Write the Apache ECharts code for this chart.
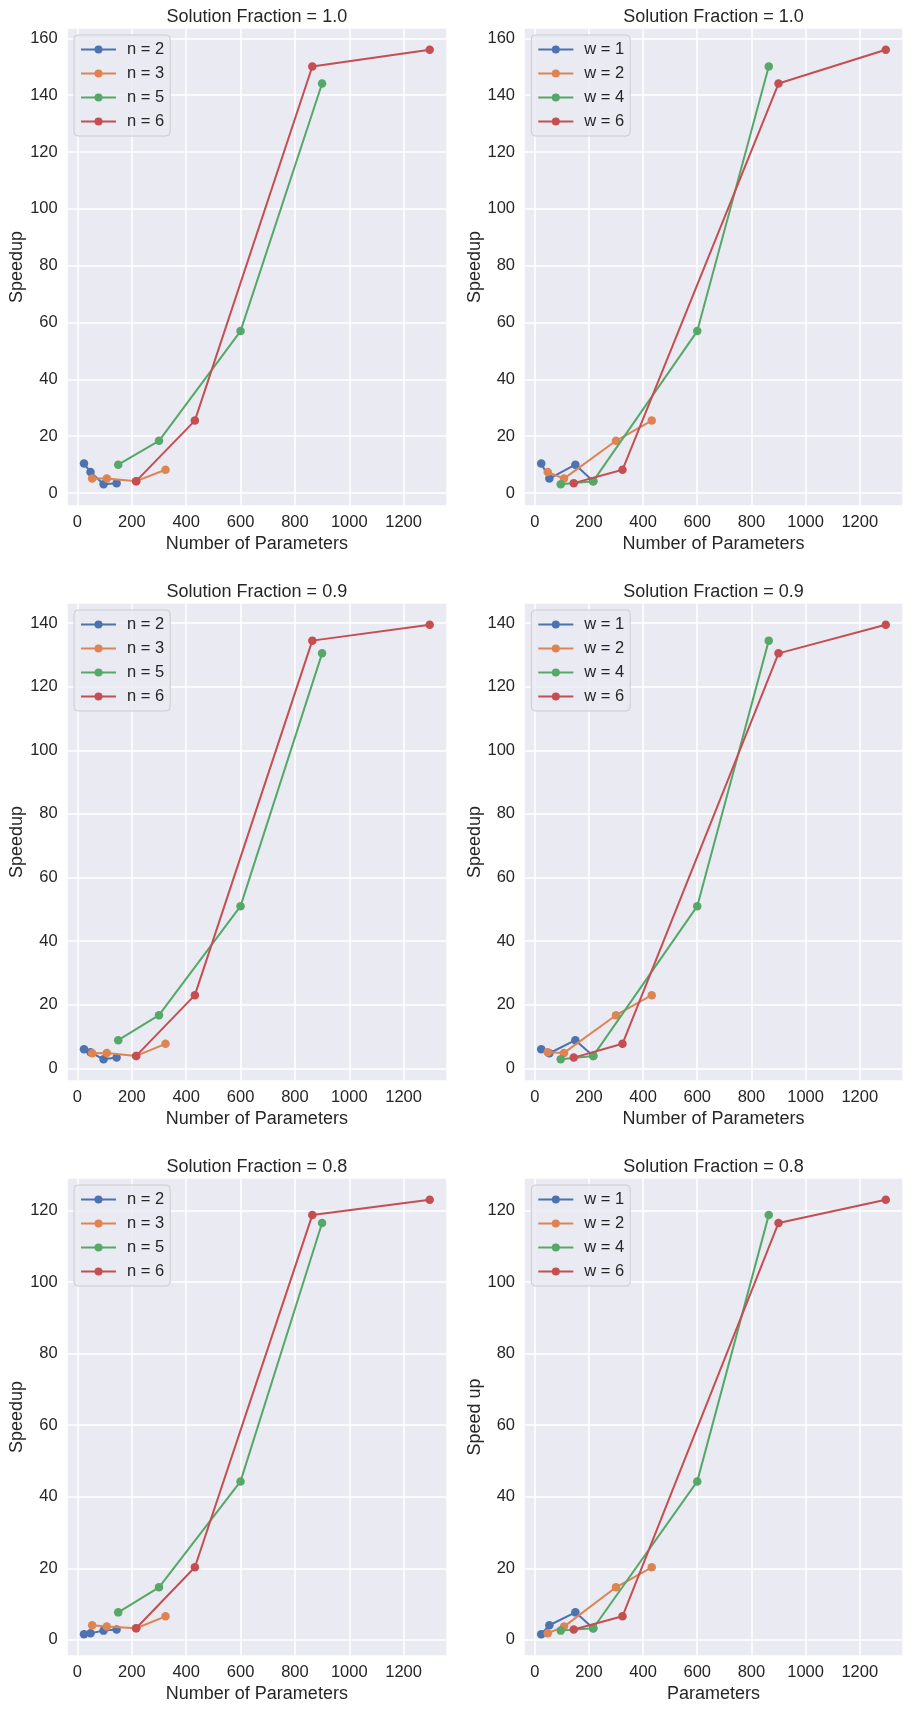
<!DOCTYPE html>
<html>
<head>
<meta charset="utf-8">
<script src="https://cdn.jsdelivr.net/npm/echarts@6/dist/echarts.min.js"></script>
<style>
html,body{margin:0;padding:0;background:#ffffff;}
#chart{width:916px;height:1711px;}
</style>
</head>
<body>
<div id="chart"></div>
<script>
// ---- data ----
const nValues = [2, 3, 5, 6];
const wValues = [1, 2, 4, 6];
// number of parameters for each n, indexed by w = 1, 2, 4, 6
const params_n2 = [24, 48, 96, 144];
const params_n3 = [54, 108, 216, 324];
const params_n5 = [150, 300, 600, 900];
const params_n6 = [216, 432, 864, 1296];
// speedup, solution fraction 1.0 (indexed by w = 1, 2, 4, 6)
const sf10_n2 = [10.4, 7.4, 3.1, 3.5];
const sf10_n3 = [5.1, 5.1, 4.2, 8.2];
const sf10_n5 = [10.0, 18.4, 57.0, 144.1];
const sf10_n6 = [4.2, 25.5, 150.1, 156.0];
// speedup, solution fraction 0.9
const sf09_n2 = [6.0, 5.05, 2.84, 3.37];
const sf09_n3 = [4.74, 4.84, 3.9, 7.7];
const sf09_n5 = [8.84, 16.7, 51.0, 130.5];
const sf09_n6 = [3.9, 23.0, 134.5, 139.5];
// speedup, solution fraction 0.8
const sf08_n2 = [1.58, 1.86, 2.6, 2.9];
const sf08_n3 = [4.1, 3.73, 3.26, 6.6];
const sf08_n5 = [7.7, 14.7, 44.3, 116.5];
const sf08_n6 = [3.26, 20.3, 118.7, 123.0];
const fractionLabels = ['1.0', '0.9', '0.8'];

const paramsByN = [params_n2, params_n3, params_n5, params_n6];
const speedByFraction = [
  [sf10_n2, sf10_n3, sf10_n5, sf10_n6],
  [sf09_n2, sf09_n3, sf09_n5, sf09_n6],
  [sf08_n2, sf08_n3, sf08_n5, sf08_n6]
];

// ---- style ----
const colors = ['#4C72B0', '#DD8452', '#55A868', '#C44E52'];
const FONT = '"Liberation Sans", Arial, Helvetica, sans-serif';
const TXT = '#262626';
const gridTops = [28, 603, 1178];
const gridH = 478;
const cols = [{left: 66.7, width: 380.3}, {left: 524, width: 379}];

const grids = [], xAxes = [], yAxes = [], series = [], titles = [], legends = [];

function rangeMin(v){ return v.min - 0.05 * (v.max - v.min); }
function rangeMax(v){ return v.max + 0.05 * (v.max - v.min); }
function plain(v){ return String(Math.round(v * 1000) / 1000); }

let gi = 0;
for (let r = 0; r < 3; r++) {
  for (let c = 0; c < 2; c++) {
    const g = cols[c];
    grids.push({left: g.left, top: gridTops[r], width: g.width, height: gridH,
      show: true, backgroundColor: '#EAEAF2', borderWidth: 0, containLabel: false});
    const isBR = (r === 2 && c === 1);
    const xName = isBR ? 'Parameters' : 'Number of Parameters';
    const yName = isBR ? 'Speed up' : 'Speedup';
    xAxes.push({
      type: 'value', gridIndex: gi, min: rangeMin, max: rangeMax, splitNumber: 7,
      name: xName, nameLocation: 'middle', nameGap: 29.5,
      nameTextStyle: {fontFamily: FONT, fontSize: 18, color: TXT},
      axisLine: {show: false}, axisTick: {show: false},
      axisLabel: {fontFamily: FONT, fontSize: 16.5, color: TXT, margin: 8,
        formatter: plain, showMinLabel: false, showMaxLabel: false},
      splitLine: {show: true, lineStyle: {color: '#ffffff', width: 1.5}}
    });
    yAxes.push({
      type: 'value', gridIndex: gi, min: rangeMin, max: rangeMax,
      splitNumber: r === 0 ? 8 : (r === 1 ? 8 : 7),
      name: yName, nameLocation: 'middle', nameGap: 39, nameRotate: 90,
      nameTextStyle: {fontFamily: FONT, fontSize: 18, color: TXT},
      axisLine: {show: false}, axisTick: {show: false},
      axisLabel: {fontFamily: FONT, fontSize: 16.5, color: TXT, margin: 9,
        formatter: plain, showMinLabel: false, showMaxLabel: false},
      splitLine: {show: true, lineStyle: {color: '#ffffff', width: 1.5}}
    });
    titles.push({
      text: 'Solution Fraction = ' + fractionLabels[r],
      left: g.left + g.width / 2, textAlign: 'center', top: gridTops[r] - 20, padding: 0,
      textStyle: {fontFamily: FONT, fontSize: 18, fontWeight: 'normal', color: TXT}
    });
    const names = [];
    const sp = speedByFraction[r];
    for (let k = 0; k < 4; k++) {
      let name, data = [];
      if (c === 0) {
        name = 'n = ' + nValues[k];
        for (let j = 0; j < 4; j++) data.push([paramsByN[k][j], sp[k][j]]);
      } else {
        name = 'w = ' + wValues[k];
        for (let i = 0; i < 4; i++) data.push([paramsByN[i][k], sp[i][k]]);
      }
      names.push(name);
      series.push({
        type: 'line', name: name, xAxisIndex: gi, yAxisIndex: gi, data: data,
        symbol: 'circle', symbolSize: 8.5, showSymbol: true,
        lineStyle: {width: 2, color: colors[k]},
        itemStyle: {color: colors[k]},
        emphasis: {disabled: true}, animation: false, z: 2 + k
      });
    }
    legends.push({
      data: names, orient: 'vertical', left: g.left + 7.3, top: gridTops[r] + 7,
      itemWidth: 35, itemHeight: 10, itemGap: 7, padding: [6, 6, 6, 6],
      backgroundColor: 'rgba(234,234,242,0.8)', borderColor: '#cccccc', borderWidth: 1,
      borderRadius: 4, selectedMode: false,
      textStyle: {fontFamily: FONT, fontSize: 16.5, color: TXT, padding: [0, 0, 0, 6]}
    });
    gi++;
  }
}

const chart = echarts.init(document.getElementById('chart'), null, {renderer: 'canvas'});
chart.setOption({
  animation: false,
  backgroundColor: '#ffffff',
  title: titles,
  legend: legends,
  grid: grids,
  xAxis: xAxes,
  yAxis: yAxes,
  series: series
});
</script>
</body>
</html>
